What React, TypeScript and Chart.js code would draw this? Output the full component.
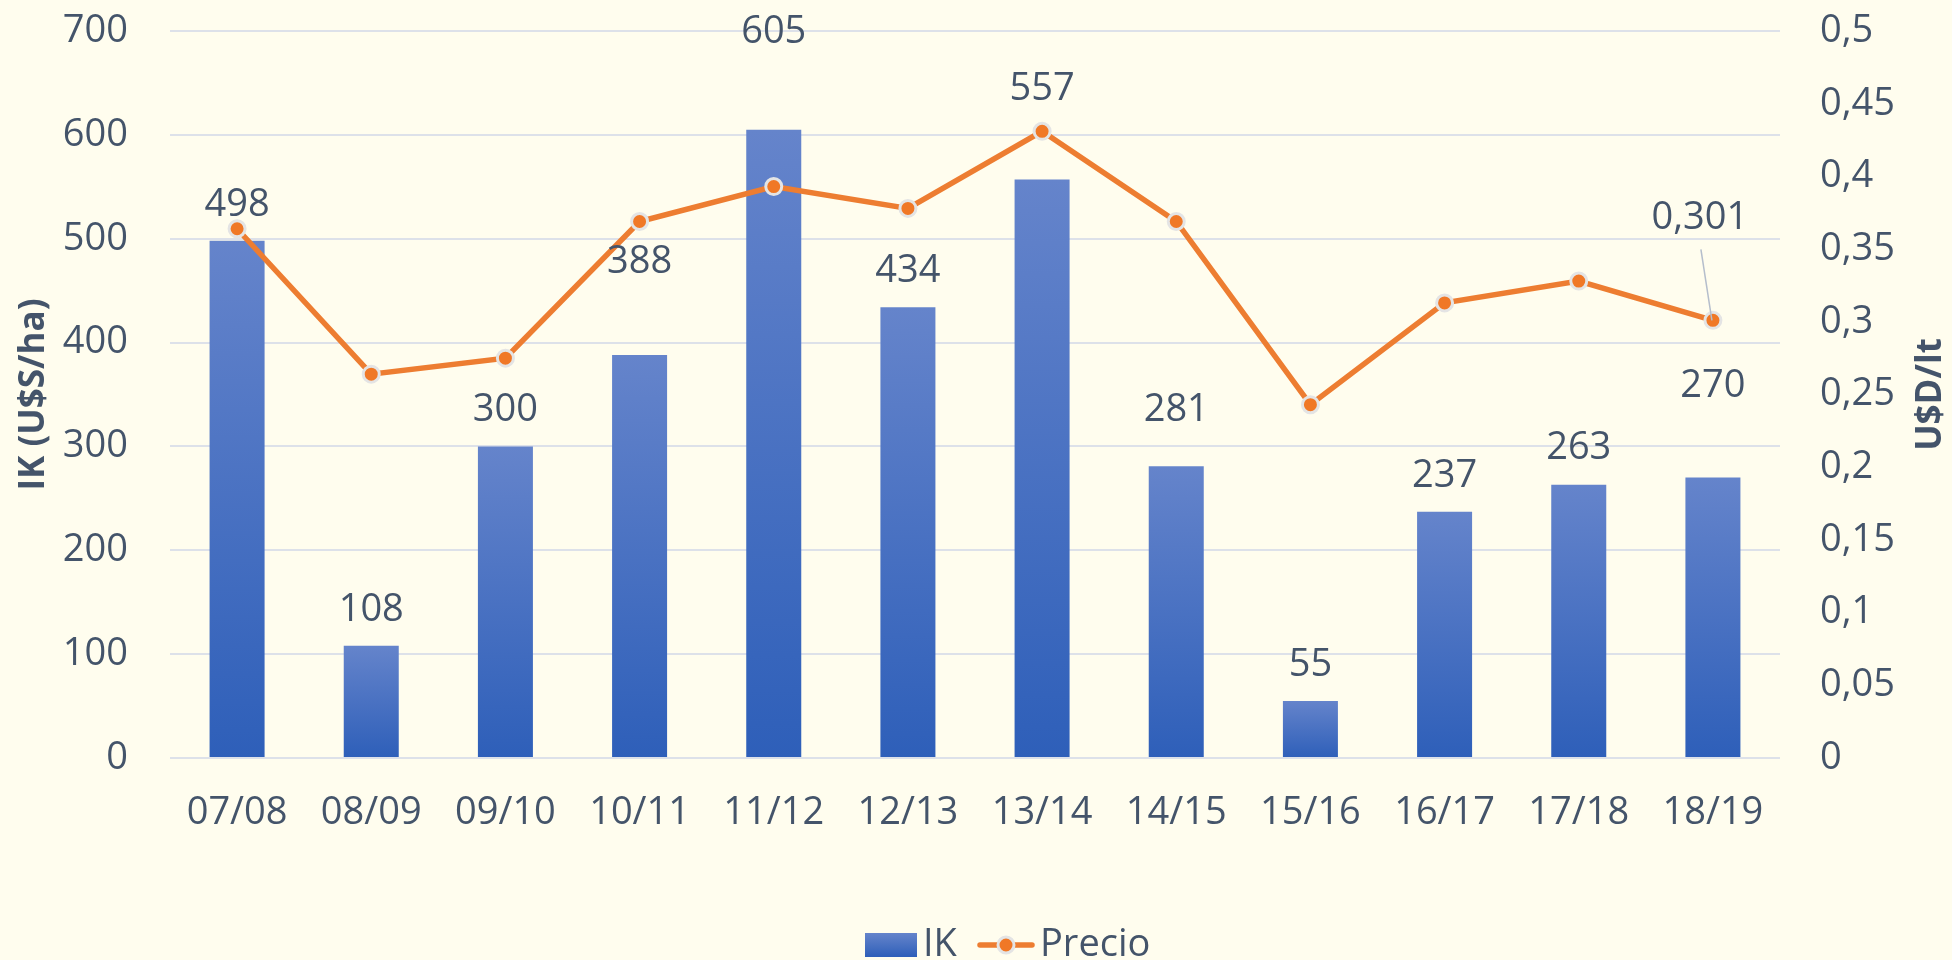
import React, { useEffect, useRef } from 'react';
import { Chart, registerables } from 'chart.js';

Chart.register(...registerables);

// ---- data ----
const CATEGORIES = ['07/08', '08/09', '09/10', '10/11', '11/12', '12/13', '13/14', '14/15', '15/16', '16/17', '17/18', '18/19'];
const IK = [498, 108, 300, 388, 605, 434, 557, 281, 55, 237, 263, 270];
const PRECIO = [0.364, 0.264, 0.275, 0.369, 0.393, 0.378, 0.431, 0.369, 0.243, 0.313, 0.328, 0.301];
const LEFT_MAX = 700;
const LEFT_STEP = 100;
const RIGHT_MAX = 0.5;
const RIGHT_STEP = 0.05;
const SERIES_NAMES = ['IK', 'Precio'];
const LEFT_TITLE = 'IK (U$S/ha)';
const RIGHT_TITLE = 'U$D/lt';
const PRICE_LABEL_INDEXES = [11];

// ---- style ----
const FONT = "'Open Sans', sans-serif";
const TEXT = '#44546A';
const BG = '#FFFDEE';
const GRID = '#DDE1E9';
const ORANGE = '#ED7D31';
const POINT_FILL = '#F07826';
const BAR_TOP = '#6584CB';
const BAR_BOTTOM = '#2E5FB9';
const FS = 38;
// vertical lift of each bar's label above the bar top (px), as placed in the source
const BAR_LABEL_LIFT = [36, 36, 36, 93, 97, 36, 90, 56, 36, 36, 37, 91];

const comma = (v: number) => String(Number(v.toFixed(3))).replace('.', ',');

const barGradient = (ctx: CanvasRenderingContext2D, top: number, bottom: number) => {
  const g = ctx.createLinearGradient(0, top, 0, bottom);
  g.addColorStop(0, BAR_TOP);
  g.addColorStop(1, BAR_BOTTOM);
  return g;
};

const overlayPlugin = {
  id: 'overlay',
  afterDatasetsDraw(chart: any) {
    const ctx: CanvasRenderingContext2D = chart.ctx;
    ctx.save();
    ctx.font = `${FS}px ${FONT}`;
    ctx.fillStyle = TEXT;
    ctx.textAlign = 'center';
    ctx.textBaseline = 'middle';
    const barMeta = chart.getDatasetMeta(1);
    barMeta.data.forEach((el: any, i: number) => {
      ctx.fillText(String(IK[i]), el.x, el.y - BAR_LABEL_LIFT[i]);
    });
    const lineMeta = chart.getDatasetMeta(0);
    PRICE_LABEL_INDEXES.forEach((i) => {
      const p = lineMeta.data[i];
      const lx = p.x - 13;
      const ly = p.y - 102;
      ctx.strokeStyle = '#B5BECC';
      ctx.lineWidth = 1.5;
      ctx.beginPath();
      ctx.moveTo(lx + 1, ly + 31);
      ctx.lineTo(p.x - 1, p.y);
      ctx.stroke();
      ctx.fillText(comma(PRECIO[i]), lx, ly);
    });
    ctx.restore();
  },
  afterDraw(chart: any) {
    const ctx: CanvasRenderingContext2D = chart.ctx;
    const area = chart.chartArea;
    ctx.save();
    // right axis title (reads bottom to top)
    ctx.font = `bold 35px ${FONT}`;
    ctx.fillStyle = TEXT;
    ctx.textAlign = 'center';
    ctx.textBaseline = 'middle';
    ctx.translate(1931, (area.top + area.bottom) / 2);
    ctx.rotate(-Math.PI / 2);
    ctx.fillText(RIGHT_TITLE, 0, 0);
    ctx.restore();

    // legend
    ctx.save();
    const ly = 945;
    ctx.fillStyle = barGradient(ctx, 933, 957);
    ctx.fillRect(865, 933, 52, 24);
    ctx.font = `${FS}px ${FONT}`;
    ctx.fillStyle = TEXT;
    ctx.textAlign = 'left';
    ctx.textBaseline = 'middle';
    ctx.fillText(SERIES_NAMES[0], 923, ly);
    ctx.strokeStyle = ORANGE;
    ctx.lineWidth = 5.5;
    ctx.lineCap = 'round';
    ctx.beginPath();
    ctx.moveTo(980, ly);
    ctx.lineTo(1032, ly);
    ctx.stroke();
    ctx.beginPath();
    ctx.arc(1006, ly, 8, 0, Math.PI * 2);
    ctx.fillStyle = POINT_FILL;
    ctx.fill();
    ctx.lineWidth = 3;
    ctx.strokeStyle = '#E4E4E4';
    ctx.stroke();
    ctx.fillStyle = TEXT;
    ctx.fillText(SERIES_NAMES[1], 1040, ly);
    ctx.restore();
  },
};

export default function App() {
  const ref = useRef<HTMLCanvasElement | null>(null);

  useEffect(() => {
    document.body.style.margin = '0';
    const canvas = ref.current;
    if (!canvas) return;
    const chart = new Chart(canvas, {
      type: 'bar',
      data: {
        labels: CATEGORIES,
        datasets: [
          {
            type: 'line',
            label: SERIES_NAMES[1],
            data: PRECIO,
            yAxisID: 'y1',
            order: 0,
            borderColor: ORANGE,
            borderWidth: 5.5,
            tension: 0,
            pointRadius: 8,
            pointHoverRadius: 8,
            pointBackgroundColor: POINT_FILL,
            pointBorderColor: '#E4E4E4',
            pointBorderWidth: 3,
          } as any,
          {
            type: 'bar',
            label: SERIES_NAMES[0],
            data: IK,
            yAxisID: 'y',
            order: 1,
            barPercentage: 0.41,
            categoryPercentage: 1,
            backgroundColor: (c: any) => {
              const ch = c.chart;
              if (!ch.chartArea || c.type !== 'data') return '#4472C4';
              const ys = ch.scales.y;
              const top = ys.getPixelForValue(IK[c.dataIndex]);
              const bottom = ys.getPixelForValue(0);
              return barGradient(ch.ctx, top, bottom);
            },
          } as any,
        ],
      },
      options: {
        responsive: false,
        animation: false,
        events: [],
        layout: { padding: 0 },
        plugins: {
          legend: { display: false },
          tooltip: { enabled: false },
        },
        scales: {
          x: {
            offset: true,
            grid: { display: false, drawTicks: false },
            border: { display: false },
            ticks: { color: TEXT, font: { family: FONT, size: FS }, padding: 32, maxRotation: 0 },
            afterFit: (s: any) => { s.height = 202; },
          },
          y: {
            position: 'left',
            min: 0,
            max: LEFT_MAX,
            ticks: { stepSize: LEFT_STEP, color: TEXT, font: { family: FONT, size: FS }, padding: 42 },
            grid: { color: GRID, lineWidth: 2, drawTicks: false },
            border: { display: false },
            title: {
              display: true,
              text: LEFT_TITLE,
              color: TEXT,
              font: { family: FONT, size: 35, weight: 'bold' },
              padding: { top: 13, bottom: 0 },
            },
            afterFit: (s: any) => { s.width = 170; s.paddingTop = 31; s.paddingBottom = 0; },
          },
          y1: {
            position: 'right',
            min: 0,
            max: RIGHT_MAX,
            ticks: {
              stepSize: RIGHT_STEP,
              color: TEXT,
              font: { family: FONT, size: FS },
              padding: 40,
              callback: (v: any) => comma(Number(v)),
            },
            grid: { display: false, drawTicks: false },
            border: { display: false },
            afterFit: (s: any) => { s.width = 172; s.paddingTop = 31; s.paddingBottom = 0; },
          },
        },
      } as any,
      plugins: [overlayPlugin],
    });
    return () => chart.destroy();
  }, []);

  return (
    <div style={{ position: 'absolute', left: 0, top: 0, width: 1952, height: 960, background: BG, overflow: 'hidden' }}>
      <canvas ref={ref} width={1952} height={960} style={{ width: 1952, height: 960, display: 'block' }} />
    </div>
  );
}
